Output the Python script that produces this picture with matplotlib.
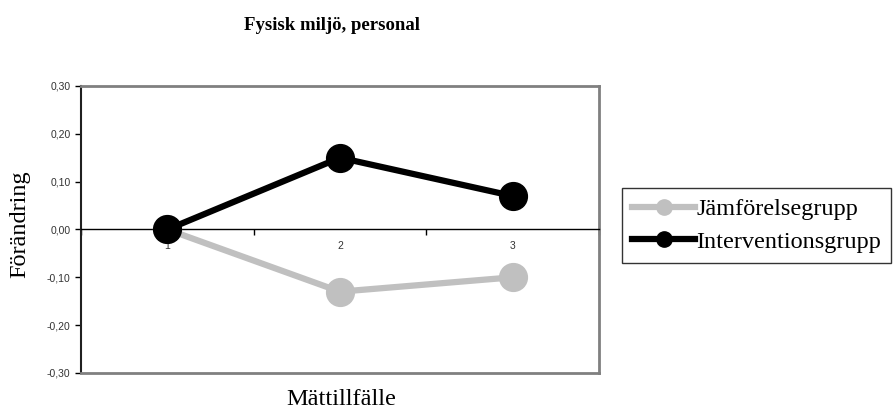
import matplotlib
matplotlib.use("Agg")
import matplotlib.pyplot as plt
from matplotlib.ticker import FixedLocator, FuncFormatter

occasions = [1, 2, 3]
occasion_labels = ["1", "2", "3"]
jamforelse = [0.00, -0.13, -0.10]
intervention = [0.00, 0.15, 0.07]
yticks = [-0.30, -0.20, -0.10, 0.00, 0.10, 0.20, 0.30]

fig = plt.figure(figsize=(8.93, 4.12), dpi=100)
ax = fig.add_axes([0.0907, 0.0947, 0.5801, 0.6966])

gray = "#c0c0c0"
ax.plot(occasions, jamforelse, color=gray, lw=4.5, marker="o", ms=20,
        markerfacecolor=gray, markeredgecolor=gray, label="Jämförelsegrupp", zorder=3)
ax.plot(occasions, intervention, color="black", lw=4.5, marker="o", ms=20,
        markerfacecolor="black", markeredgecolor="black", label="Interventionsgrupp", zorder=4)

ax.set_xlim(0.5, 3.5)
ax.set_ylim(-0.3, 0.3)

# spines
ax.spines["bottom"].set_position(("data", 0))
ax.spines["bottom"].set_color("black")
ax.spines["bottom"].set_linewidth(1)
for s in ["top", "right"]:
    ax.spines[s].set_color("#808080")
    ax.spines[s].set_linewidth(2)
ax.spines["left"].set_color("#202020")
ax.spines["left"].set_linewidth(1.5)
ax.axhline(-0.3, color="#808080", lw=2, clip_on=False, zorder=5)

# x ticks between categories, labels at categories
ax.xaxis.set_major_locator(FixedLocator([0.5, 1.5, 2.5, 3.5]))
ax.xaxis.set_major_formatter(FuncFormatter(lambda v, p: ""))
ax.xaxis.set_minor_locator(FixedLocator(occasions))
ax.set_xticklabels(occasion_labels, minor=True)
ax.tick_params(axis="x", which="major", direction="out", length=4, width=1)
ax.tick_params(axis="x", which="minor", length=0, labelsize=7.5, pad=8, labelcolor="#333333")

ax.set_yticks(yticks)
ax.set_yticklabels([f"{v:.2f}".replace(".", ",") for v in yticks])
ax.tick_params(axis="y", direction="out", length=4, width=1, labelsize=7.5, labelcolor="#333333")
for lab in ax.get_xticklabels(minor=True) + ax.get_yticklabels():
    lab.set_family("Liberation Sans")

fig.text(0.372, 0.937, "Fysisk miljö, personal", ha="center", va="center",
         family="Liberation Serif", fontweight="bold", fontsize=13.5)
fig.text(0.022, 0.455, "Förändring", rotation=90, ha="center", va="center",
         family="Liberation Serif", fontsize=17.5)
fig.text(0.382, 0.03, "Mättillfälle", ha="center", va="center",
         family="Liberation Serif", fontsize=17.5)

leg = fig.legend(loc="upper left", bbox_to_anchor=(0.697, 0.543), frameon=True,
                 fancybox=False, edgecolor="black", markerscale=0.55,
                 handlelength=2.6, handletextpad=0.05, borderpad=0.4, labelspacing=0.45,
                 borderaxespad=0, prop={"family": "Liberation Serif", "size": 17.5})
leg.get_frame().set_linewidth(1)

fig.savefig("out.png", dpi=100)
